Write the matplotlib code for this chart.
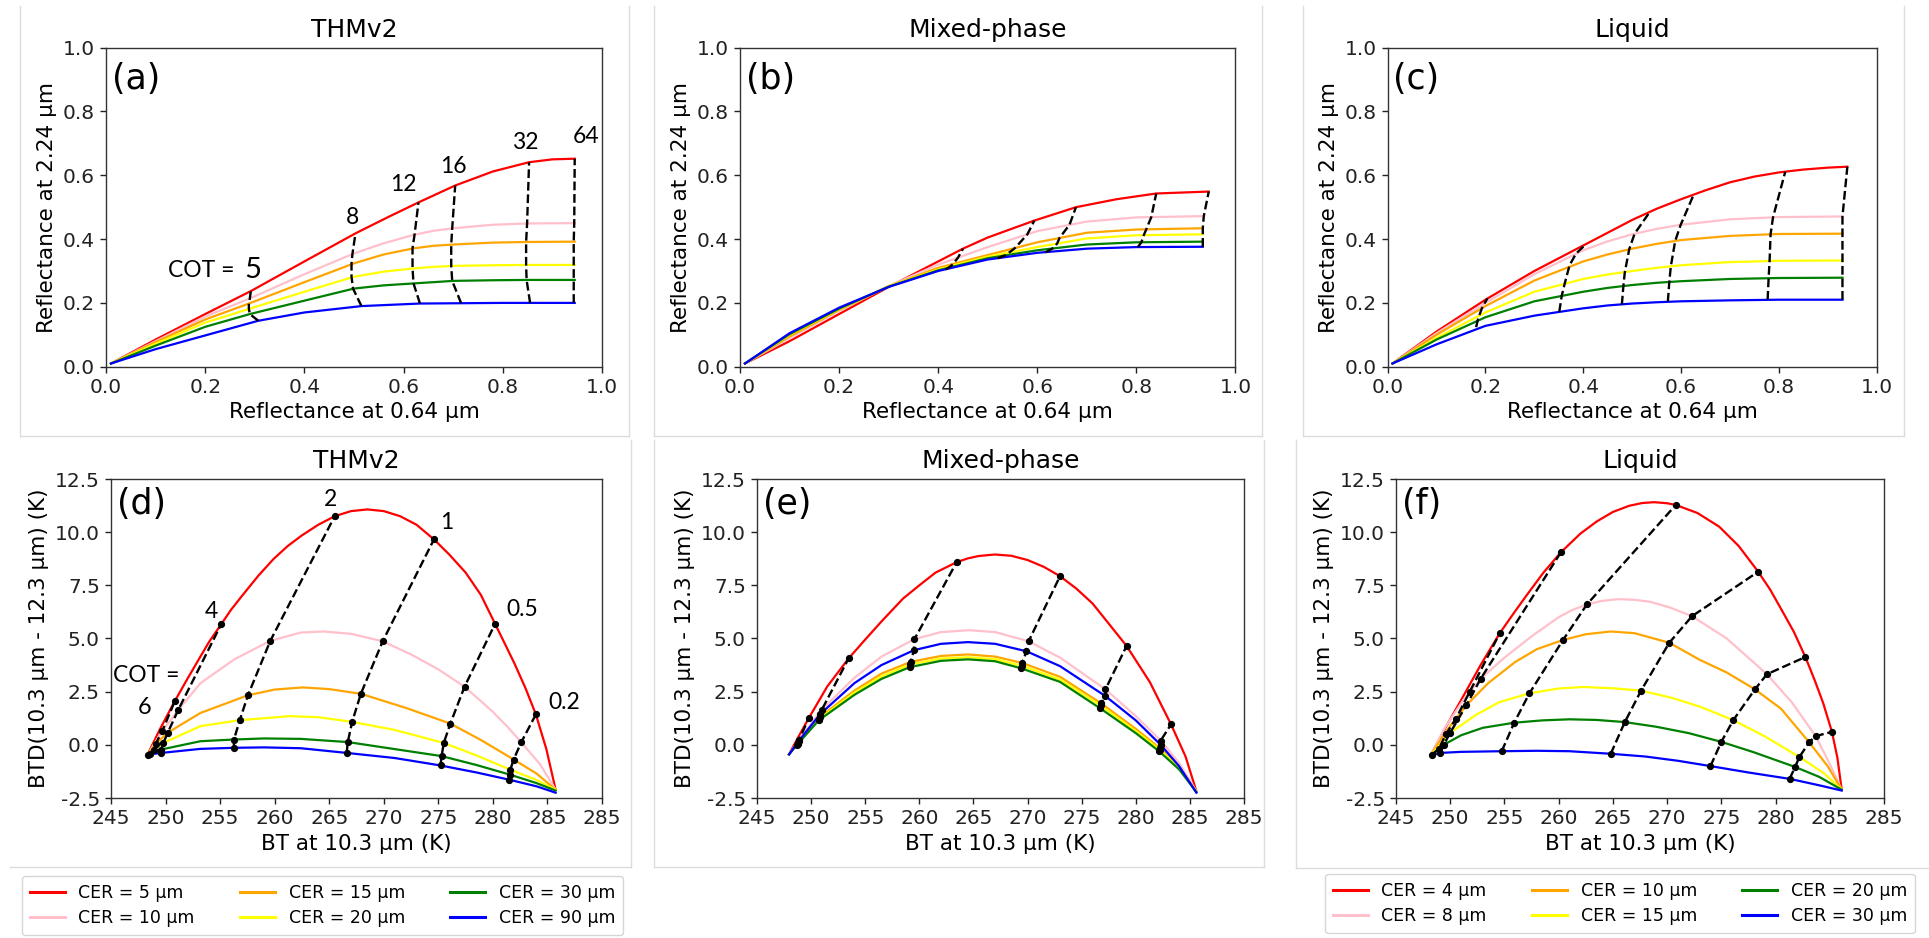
import matplotlib
matplotlib.use('Agg')
import matplotlib.pyplot as plt
from matplotlib.lines import Line2D

plt.rcParams['font.family'] = ['DejaVu Sans']

# ---------------- shared data ----------------
colors = ['red', 'pink', 'orange', 'yellow', 'green', 'blue']
cer_thm = [5, 10, 15, 20, 30, 90]
cer_liq = [4, 8, 10, 15, 20, 30]
titles = ['THMv2', 'Mixed-phase', 'Liquid']
letters = ['(a)', '(b)', '(c)', '(d)', '(e)', '(f)']

refl_ticks = [0.0, 0.2, 0.4, 0.6, 0.8, 1.0]
refl_ticklabels = ['0.0', '0.2', '0.4', '0.6', '0.8', '1.0']
bt_ticks = [245, 250, 255, 260, 265, 270, 275, 280, 285, 290]
bt_ticklabels = ['245', '250', '255', '260', '265', '270', '275', '280', '285', '285']
btd_ticks = [-2.5, 0.0, 2.5, 5.0, 7.5, 10.0, 12.5]
btd_ticklabels = ['-2.5', '0.0', '2.5', '5.0', '7.5', '10.0', '12.5']

# ---------------- panel (a) THMv2 reflectance ----------------
a_x = [
    [0.01, 0.1, 0.2, 0.292, 0.4, 0.503, 0.57, 0.63, 0.704, 0.78, 0.853, 0.9, 0.945],
    [0.01, 0.1, 0.2, 0.29, 0.4, 0.5, 0.56, 0.62, 0.66, 0.70, 0.78, 0.85, 0.945],
    [0.01, 0.1, 0.2, 0.29, 0.4, 0.5, 0.56, 0.62, 0.66, 0.70, 0.78, 0.85, 0.945],
    [0.01, 0.1, 0.2, 0.29, 0.4, 0.5, 0.56, 0.62, 0.66, 0.70, 0.78, 0.85, 0.945],
    [0.01, 0.1, 0.2, 0.29, 0.4, 0.5, 0.56, 0.62, 0.66, 0.70, 0.78, 0.85, 0.945],
    [0.01, 0.1, 0.2, 0.307, 0.4, 0.515, 0.633, 0.716, 0.8, 0.855, 0.945],
]
a_y = [
    [0.01, 0.085, 0.165, 0.237, 0.33, 0.418, 0.47, 0.515, 0.568, 0.612, 0.641, 0.65, 0.652],
    [0.01, 0.08, 0.157, 0.214, 0.29, 0.355, 0.387, 0.413, 0.426, 0.434, 0.445, 0.449, 0.45],
    [0.01, 0.077, 0.148, 0.199, 0.265, 0.324, 0.352, 0.371, 0.379, 0.383, 0.389, 0.391, 0.392],
    [0.01, 0.072, 0.138, 0.182, 0.235, 0.282, 0.298, 0.308, 0.313, 0.316, 0.318, 0.319, 0.319],
    [0.01, 0.066, 0.125, 0.165, 0.207, 0.245, 0.255, 0.261, 0.265, 0.269, 0.271, 0.272, 0.272],
    [0.01, 0.055, 0.098, 0.144, 0.17, 0.19, 0.198, 0.199, 0.2, 0.2, 0.2],
]
a_cot = ['5', '8', '12', '16', '32', '64']
a_iso_x = [
    [0.292, 0.29, 0.288, 0.288, 0.29, 0.307],
    [0.503, 0.497, 0.495, 0.495, 0.498, 0.515],
    [0.63, 0.622, 0.618, 0.618, 0.62, 0.633],
    [0.704, 0.698, 0.696, 0.696, 0.698, 0.716],
    [0.853, 0.849, 0.847, 0.847, 0.848, 0.855],
    [0.945, 0.944, 0.943, 0.943, 0.943, 0.943],
]
a_iso_y = [
    [0.237, 0.214, 0.199, 0.182, 0.165, 0.144],
    [0.418, 0.355, 0.324, 0.282, 0.245, 0.19],
    [0.515, 0.413, 0.371, 0.308, 0.261, 0.198],
    [0.568, 0.434, 0.383, 0.316, 0.269, 0.199],
    [0.641, 0.449, 0.391, 0.319, 0.272, 0.2],
    [0.652, 0.45, 0.392, 0.319, 0.272, 0.2],
]
a_label_x = [0.496, 0.60, 0.70, 0.845, 0.967]
a_label_y = [0.468, 0.572, 0.627, 0.702, 0.721]

# ---------------- panel (b) Mixed-phase reflectance ----------------
b_x = [
    [0.01, 0.1, 0.2, 0.3, 0.4, 0.45, 0.5, 0.594, 0.678, 0.76, 0.84, 0.946],
    [0.01, 0.1, 0.2, 0.3, 0.4, 0.5, 0.6, 0.7, 0.8, 0.934],
    [0.01, 0.1, 0.2, 0.3, 0.4, 0.5, 0.6, 0.7, 0.8, 0.934],
    [0.01, 0.1, 0.2, 0.3, 0.4, 0.5, 0.6, 0.7, 0.8, 0.934],
    [0.01, 0.1, 0.2, 0.3, 0.4, 0.5, 0.6, 0.7, 0.8, 0.934],
    [0.01, 0.1, 0.2, 0.3, 0.4, 0.5, 0.6, 0.7, 0.8, 0.934],
]
b_y = [
    [0.01, 0.08, 0.165, 0.25, 0.33, 0.37, 0.405, 0.458, 0.50, 0.525, 0.543, 0.549],
    [0.01, 0.09, 0.175, 0.253, 0.32, 0.375, 0.425, 0.455, 0.468, 0.472],
    [0.01, 0.095, 0.178, 0.252, 0.31, 0.35, 0.39, 0.42, 0.43, 0.434],
    [0.01, 0.1, 0.18, 0.252, 0.305, 0.345, 0.375, 0.402, 0.412, 0.415],
    [0.01, 0.102, 0.182, 0.251, 0.302, 0.34, 0.365, 0.383, 0.39, 0.392],
    [0.01, 0.105, 0.185, 0.25, 0.30, 0.336, 0.357, 0.37, 0.375, 0.376],
]
b_iso_x = [
    [0.45, 0.44, 0.43, 0.425, 0.42, 0.415],
    [0.594, 0.58, 0.555, 0.545, 0.535, 0.52],
    [0.678, 0.665, 0.645, 0.64, 0.63, 0.617],
    [0.84, 0.83, 0.82, 0.815, 0.81, 0.803],
    [0.946, 0.936, 0.934, 0.934, 0.934, 0.934],
]
b_iso_y = [
    [0.37, 0.342, 0.322, 0.315, 0.31, 0.305],
    [0.458, 0.415, 0.372, 0.36, 0.349, 0.34],
    [0.50, 0.445, 0.404, 0.386, 0.37, 0.359],
    [0.543, 0.469, 0.431, 0.4125, 0.39, 0.375],
    [0.549, 0.472, 0.434, 0.415, 0.392, 0.376],
]

# ---------------- panel (c) Liquid reflectance ----------------
c_x = [
    [0.01, 0.1, 0.2, 0.3, 0.4, 0.5, 0.55, 0.6, 0.65, 0.7, 0.75, 0.8, 0.85, 0.9, 0.94],
    [0.01, 0.1, 0.2, 0.3, 0.4, 0.45, 0.5, 0.55, 0.6, 0.7, 0.8, 0.93],
    [0.01, 0.1, 0.2, 0.3, 0.4, 0.45, 0.5, 0.55, 0.6, 0.7, 0.8, 0.93],
    [0.01, 0.1, 0.2, 0.3, 0.4, 0.45, 0.5, 0.55, 0.6, 0.7, 0.8, 0.93],
    [0.01, 0.1, 0.2, 0.3, 0.4, 0.45, 0.5, 0.55, 0.6, 0.7, 0.8, 0.93],
    [0.01, 0.1, 0.2, 0.3, 0.4, 0.45, 0.5, 0.55, 0.6, 0.7, 0.8, 0.93],
]
c_y = [
    [0.01, 0.11, 0.21, 0.30, 0.38, 0.46, 0.495, 0.525, 0.553, 0.578, 0.596, 0.609, 0.618, 0.624, 0.627],
    [0.01, 0.105, 0.2, 0.29, 0.365, 0.393, 0.415, 0.432, 0.445, 0.462, 0.469, 0.471],
    [0.01, 0.1, 0.19, 0.27, 0.33, 0.352, 0.37, 0.385, 0.397, 0.41, 0.416, 0.417],
    [0.01, 0.09, 0.17, 0.235, 0.275, 0.289, 0.30, 0.31, 0.318, 0.328, 0.332, 0.333],
    [0.01, 0.085, 0.155, 0.205, 0.235, 0.247, 0.256, 0.263, 0.268, 0.275, 0.278, 0.279],
    [0.01, 0.07, 0.128, 0.16, 0.183, 0.192, 0.198, 0.202, 0.205, 0.208, 0.21, 0.21],
]
c_iso_x = [
    [0.204, 0.198, 0.193, 0.188, 0.185, 0.181],
    [0.406, 0.385, 0.372, 0.362, 0.356, 0.351],
    [0.536, 0.505, 0.494, 0.485, 0.482, 0.479],
    [0.626, 0.599, 0.588, 0.579, 0.576, 0.573],
    [0.813, 0.788, 0.783, 0.781, 0.779, 0.777],
    [0.94, 0.93, 0.93, 0.93, 0.93, 0.93],
]
c_iso_y = [
    [0.214, 0.198, 0.184, 0.163, 0.15, 0.124],
    [0.385, 0.354, 0.318, 0.26, 0.222, 0.172],
    [0.485, 0.417, 0.368, 0.296, 0.252, 0.195],
    [0.54, 0.444, 0.394, 0.314, 0.266, 0.204],
    [0.611, 0.468, 0.415, 0.331, 0.277, 0.21],
    [0.627, 0.471, 0.417, 0.333, 0.279, 0.21],
]

# ---------------- panel (d) THMv2 BTD ----------------
d_x = [
    [248.35, 249.5, 250.85, 252, 253, 254, 255.1, 256, 257, 258.5, 259.9, 261.2, 262.5, 264, 265.5,
     267, 268.5, 270, 271.5, 273, 274.6, 276, 277.5, 278.9, 280.2, 281.1, 282, 283, 283.94, 284.9, 285.75],
    [248.35, 249.7, 251.15, 253.2, 256.3, 259.6, 262.4, 264.5, 267, 269.9, 272.5, 275, 277.4, 278.7,
     280, 281.3, 282.6, 284.3, 285.75],
    [248.35, 249.1, 250.2, 253.2, 257.55, 260, 262.6, 265, 267.9, 272, 276.1, 279, 281.9, 284, 285.75],
    [248.35, 249.8, 253.2, 256.8, 261.4, 264, 267.1, 271, 275.5, 278.5, 281.6, 284, 285.75],
    [248.35, 249.6, 253.2, 256.27, 259, 262.4, 266.7, 271, 275.3, 278.5, 281.55, 284, 285.75],
    [248.35, 249.6, 253.2, 256.27, 259, 262.4, 266.6, 271, 275.2, 278.5, 281.5, 284, 285.75],
]
d_y = [
    [-0.46, 0.75, 2.06, 3.1, 3.98, 4.85, 5.67, 6.35, 7.0, 7.95, 8.74, 9.35, 9.85, 10.35, 10.75,
     10.99, 11.07, 10.99, 10.75, 10.35, 9.66, 8.95, 8.1, 7.05, 5.69, 4.75, 3.8, 2.65, 1.43, -0.2, -2.11],
    [-0.46, 0.65, 1.63, 2.9, 4.02, 4.89, 5.28, 5.33, 5.22, 4.87, 4.25, 3.55, 2.73, 2.15,
     1.55, 0.87, 0.12, -0.9, -2.11],
    [-0.46, 0.05, 0.57, 1.5, 2.33, 2.6, 2.7, 2.62, 2.4, 1.74, 1.0, 0.2, -0.69, -1.35, -2.11],
    [-0.46, 0.09, 0.88, 1.16, 1.35, 1.3, 1.08, 0.7, 0.09, -0.5, -1.17, -1.65, -2.11],
    [-0.46, -0.22, 0.17, 0.25, 0.3, 0.28, 0.13, -0.2, -0.53, -0.95, -1.4, -1.8, -2.15],
    [-0.46, -0.38, -0.19, -0.14, -0.12, -0.16, -0.38, -0.62, -0.97, -1.3, -1.64, -1.95, -2.25],
]
d_iso_x = [
    [250.85, 249.7, 249.1, 248.9, 248.6, 248.4],
    [255.1, 251.15, 250.2, 249.8, 249.6, 249.6],
    [265.5, 259.6, 257.55, 256.8, 256.27, 256.27],
    [274.6, 269.9, 267.9, 267.1, 266.7, 266.6],
    [280.2, 277.4, 276.1, 275.5, 275.3, 275.2],
    [283.94, 282.6, 281.9, 281.6, 281.55, 281.5],
]
d_iso_y = [
    [2.06, 0.65, 0.05, -0.25, -0.41, -0.46],
    [5.67, 1.63, 0.57, 0.09, -0.22, -0.38],
    [10.75, 4.89, 2.33, 1.16, 0.25, -0.14],
    [9.66, 4.87, 2.4, 1.08, 0.13, -0.38],
    [5.69, 2.73, 1.0, 0.09, -0.53, -0.97],
    [1.43, 0.12, -0.69, -1.17, -1.4, -1.64],
]
d_labels = ['2', '1', '4', '0.5', '0.2']
d_label_x = [265.1, 275.8, 254.2, 282.7, 286.5]
d_label_y = [11.54, 10.44, 6.25, 6.36, 1.97]

# ---------------- panel (e) Mixed-phase BTD ----------------
e_x = [
    [247.96, 248.8, 249.8, 251.5, 253.46, 255, 256.5, 258.5, 260, 261.5, 263.45, 264.5, 265.5, 267,
     268.5, 270, 271.5, 273, 274.5, 276, 277.5, 279.15, 281.3, 283.26, 284.6, 285.6],
    [247.96, 248.9, 251.0, 254, 256.5, 259.55, 262, 264.6, 267, 270.1, 273, 277.2, 280, 282.3, 284, 285.6],
    [247.96, 248.8, 250.8, 254, 256.5, 259.2, 262, 264.5, 267, 269.5, 273, 276.8, 280, 282.2, 284, 285.6],
    [247.96, 248.75, 250.75, 254, 256.5, 259.15, 262, 264.5, 267, 269.45, 273, 276.75, 280, 282.2, 284, 285.6],
    [247.96, 248.7, 250.7, 254, 256.5, 259.1, 262, 264.5, 267, 269.4, 273, 276.7, 280, 282.15, 284, 285.6],
    [247.96, 248.85, 250.85, 254, 256.5, 259.5, 262, 264.5, 267, 269.9, 273, 277.2, 280, 282.3, 284, 285.6],
]
e_y = [
    [-0.45, 0.35, 1.27, 2.75, 4.06, 4.95, 5.8, 6.88, 7.5, 8.1, 8.59, 8.77, 8.88, 8.95,
     8.89, 8.69, 8.37, 7.93, 7.35, 6.65, 5.7, 4.65, 2.95, 0.96, -0.55, -2.18],
    [-0.45, 0.25, 1.66, 3.15, 4.15, 4.97, 5.3, 5.39, 5.3, 4.87, 4.1, 2.61, 1.35, 0.2, -0.85, -2.18],
    [-0.45, 0.1, 1.3, 2.55, 3.35, 3.9, 4.18, 4.25, 4.15, 3.85, 3.2, 1.95, 0.75, -0.15, -1.05, -2.2],
    [-0.45, 0.05, 1.22, 2.45, 3.22, 3.78, 4.06, 4.12, 4.03, 3.72, 3.07, 1.85, 0.65, -0.22, -1.1, -2.2],
    [-0.45, 0.0, 1.15, 2.35, 3.1, 3.65, 3.95, 4.02, 3.93, 3.6, 2.96, 1.72, 0.55, -0.3, -1.15, -2.22],
    [-0.45, 0.18, 1.45, 2.9, 3.75, 4.45, 4.75, 4.83, 4.75, 4.4, 3.7, 2.29, 1.15, 0.0, -1.0, -2.25],
]
e_iso_x = [
    [249.8, 248.9, 248.8, 248.75, 248.7, 248.85],
    [253.46, 251.0, 250.8, 250.75, 250.7, 250.85],
    [263.45, 259.55, 259.2, 259.15, 259.1, 259.5],
    [273.0, 270.1, 269.5, 269.45, 269.4, 269.9],
    [279.15, 277.2, 276.8, 276.75, 276.7, 277.2],
    [283.26, 282.3, 282.2, 282.2, 282.15, 282.3],
]
e_iso_y = [
    [1.27, 0.25, 0.1, 0.05, 0.0, 0.18],
    [4.06, 1.66, 1.3, 1.22, 1.15, 1.45],
    [8.59, 4.97, 3.9, 3.78, 3.65, 4.45],
    [7.93, 4.87, 3.85, 3.72, 3.6, 4.4],
    [4.65, 2.61, 1.95, 1.85, 1.72, 2.29],
    [0.96, 0.2, -0.15, -0.22, -0.3, 0.0],
]

# ---------------- panel (f) Liquid BTD ----------------
f_x = [
    [248.2, 249.5, 251, 252.8, 254.57, 255.8, 257, 258.6, 260.2, 262, 263.5, 265, 266.5, 267.7, 268.8,
     270, 270.8, 272.8, 274.8, 276.6, 278.4, 279.5, 280.5, 281.7, 282.75, 283.6, 284.4, 285.2, 285.7, 286.1],
    [248.2, 249.5, 251.2, 252.8, 255, 257.5, 260, 261.3, 262.6, 264, 265.5, 267, 268.5, 270.3, 272.3,
     275.5, 279.2, 281.5, 283.7, 285, 286.1],
    [248.2, 249.5, 251.5, 253.5, 256, 258, 260.4, 262.5, 264.8, 267, 270.2, 273, 275.5, 278.1, 280.5,
     283.1, 284.8, 286.1],
    [248.2, 250.0, 252.35, 254.5, 257.3, 260, 262.3, 265, 267.6, 270.5, 273, 276.1, 279, 282.2, 284.5, 286.1],
    [248.2, 249.4, 251, 253, 255.9, 258.5, 261, 263.5, 266.1, 269, 272, 275.0, 278, 281.8, 284, 286.1],
    [248.2, 249.1, 251, 254.75, 258, 261, 264.8, 268, 271, 274.0, 277.5, 281.3, 284, 286.1],
]
f_y = [
    [-0.5, 0.75, 2.1, 3.75, 5.25, 6.15, 7.0, 8.1, 9.05, 9.93, 10.5, 10.95, 11.24, 11.37, 11.41,
     11.36, 11.28, 10.9, 10.26, 9.35, 8.14, 7.3, 6.4, 5.3, 4.13, 3.05, 1.95, 0.61, -0.6, -2.11],
    [-0.5, 0.8, 2.1, 3.1, 4.1, 5.1, 6.0, 6.35, 6.6, 6.77, 6.85, 6.82, 6.72, 6.45, 6.05,
     5.0, 3.32, 2.0, 0.41, -0.9, -2.11],
    [-0.5, 0.55, 1.87, 2.9, 3.9, 4.5, 4.93, 5.2, 5.33, 5.25, 4.8, 4.0, 3.4, 2.61, 1.7,
     0.12, -1.0, -2.11],
    [-0.5, 0.57, 1.4, 2.0, 2.42, 2.65, 2.72, 2.66, 2.55, 2.2, 1.8, 1.16, 0.4, -0.57, -1.35, -2.11],
    [-0.5, 0.0, 0.45, 0.8, 1.04, 1.15, 1.2, 1.17, 1.07, 0.85, 0.55, 0.14, -0.35, -1.04, -1.5, -2.11],
    [-0.5, -0.38, -0.33, -0.3, -0.28, -0.3, -0.42, -0.55, -0.75, -1.0, -1.3, -1.6, -1.9, -2.15],
]
f_iso_x = [
    [254.57, 251.8, 250.5, 249.6, 248.95, 248.3],
    [260.2, 252.8, 251.5, 250.0, 249.4, 249.1],
    [270.8, 262.6, 260.4, 257.3, 255.9, 254.75],
    [278.4, 272.3, 270.2, 267.6, 266.1, 264.8],
    [282.75, 279.2, 278.1, 276.1, 275.0, 274.0],
    [285.2, 283.7, 283.1, 282.2, 281.8, 281.3],
]
f_iso_y = [
    [5.25, 2.5, 1.2, 0.5, -0.19, -0.48],
    [9.05, 3.1, 1.87, 0.57, 0.0, -0.38],
    [11.28, 6.6, 4.93, 2.42, 1.04, -0.3],
    [8.14, 6.05, 4.8, 2.55, 1.07, -0.42],
    [4.13, 3.32, 2.61, 1.16, 0.14, -1.0],
    [0.61, 0.41, 0.12, -0.57, -1.04, -1.6],
]

# ---------------- figure ----------------
W, H = 1929, 938
fig = plt.figure(figsize=(W / 100, H / 100), dpi=100)


def box(l, r, t, b):
    return [l / W, 1 - b / H, (r - l) / W, (b - t) / H]


def fline(x0, y0, x1, y1):
    fig.add_artist(Line2D([x0 / W, x1 / W], [1 - y0 / H, 1 - y1 / H],
                          transform=fig.transFigure, color='#dcdcdc', lw=1.0))


# faint panel frames of the composite
fline(20, 6, 20, 436)
fline(629, 6, 629, 436)
fline(20, 436, 629, 436)
fline(654, 6, 654, 436)
fline(1262, 6, 1262, 436)
fline(654, 436, 1262, 436)
fline(1303, 6, 1303, 436)
fline(1904, 6, 1904, 436)
fline(1303, 436, 1904, 436)
fline(631, 440, 631, 867)
fline(10, 867, 631, 867)
fline(654, 440, 654, 867)
fline(1264, 440, 1264, 867)
fline(654, 867, 1264, 867)
fline(1296, 440, 1296, 868)
fline(1296, 868, 1929, 868)

TICK = 14.5
LAB = 15.5
TIT = 18
ANN = 16.5
ANN_FAM = ['Lato', 'DejaVu Sans']


def style(ax):
    for s in ax.spines.values():
        s.set_color('#333333')
        s.set_linewidth(1.0)
    ax.tick_params(labelsize=TICK, colors='#222222', length=4.5, width=1.0)


def refl_axes(rect, title, letter):
    ax = fig.add_axes(rect)
    ax.set_xlim(0, 1)
    ax.set_ylim(0, 1)
    ax.set_xticks(refl_ticks)
    ax.set_xticklabels(refl_ticklabels)
    ax.set_yticks(refl_ticks)
    ax.set_yticklabels(refl_ticklabels)
    ax.set_xlabel('Reflectance at 0.64 µm', fontsize=LAB, labelpad=4)
    ax.set_ylabel('Reflectance at 2.24 µm', fontsize=LAB, labelpad=4)
    ax.set_title(title, fontsize=TIT, pad=8)
    ax.text(0.012, 0.955, letter, transform=ax.transAxes, fontsize=25,
            ha='left', va='top')
    style(ax)
    return ax


def bt_axes(rect, title, letter):
    ax = fig.add_axes(rect)
    ax.set_xlim(245, 290)
    ax.set_ylim(-2.5, 12.5)
    ax.set_xticks(bt_ticks)
    ax.set_xticklabels(bt_ticklabels)
    ax.set_yticks(btd_ticks)
    ax.set_yticklabels(btd_ticklabels)
    ax.set_xlabel('BT at 10.3 µm (K)', fontsize=LAB, labelpad=4)
    ax.set_ylabel('BTD(10.3 µm - 12.3 µm) (K)', fontsize=LAB, labelpad=4)
    ax.set_title(title, fontsize=TIT, pad=8)
    ax.text(0.012, 0.975, letter, transform=ax.transAxes, fontsize=25,
            ha='left', va='top')
    style(ax)
    return ax


def draw(ax, xs, ys, iso_x, iso_y, markers):
    for c, x, y in zip(colors, xs, ys):
        ax.plot(x, y, color=c, lw=1.6, zorder=2, solid_joinstyle='round')
    for ix, iy in zip(iso_x, iso_y):
        pts = sorted(zip(iy, ix))
        yy = [p[0] for p in pts]
        xx = [p[1] for p in pts]
        if markers:
            ax.plot(xx, yy, color='black', ls='--', lw=1.7, marker='o',
                    ms=4.2, zorder=3)
        else:
            ax.plot(xx, yy, color='black', ls='--', lw=1.7, zorder=3)


ax_a = refl_axes(box(106, 602, 47.7, 366.7), titles[0], letters[0])
draw(ax_a, a_x, a_y, a_iso_x, a_iso_y, False)
ax_a.text(0.125, 0.303, 'COT =', fontsize=ANN, family=ANN_FAM, ha='left', va='center')
ax_a.text(0.296, 0.303, a_cot[0], fontsize=21, family=ANN_FAM, ha='center', va='center')
for t, x, y in zip(a_cot[1:], a_label_x, a_label_y):
    ax_a.text(x, y, t, fontsize=ANN, family=ANN_FAM, ha='center', va='center')

ax_b = refl_axes(box(740, 1235.5, 47.7, 366.7), titles[1], letters[1])
draw(ax_b, b_x, b_y, b_iso_x, b_iso_y, False)

ax_c = refl_axes(box(1387.6, 1876.7, 47.7, 366.7), titles[2], letters[2])
draw(ax_c, c_x, c_y, c_iso_x, c_iso_y, False)

ax_d = bt_axes(box(111, 602, 479, 798), titles[0], letters[3])
draw(ax_d, d_x, d_y, d_iso_x, d_iso_y, True)
ax_d.text(248.2, 3.24, 'COT =', fontsize=ANN, family=ANN_FAM, ha='center', va='center')
ax_d.text(248.1, 1.77, '6', fontsize=17, family=ANN_FAM, ha='center', va='center')
for t, x, y in zip(d_labels, d_label_x, d_label_y):
    ax_d.text(x, y, t, fontsize=ANN, family=ANN_FAM, ha='center', va='center')

ax_e = bt_axes(box(757, 1244, 479, 798), titles[1], letters[4])
draw(ax_e, e_x, e_y, e_iso_x, e_iso_y, True)

ax_f = bt_axes(box(1396, 1884, 479, 798), titles[2], letters[5])
draw(ax_f, f_x, f_y, f_iso_x, f_iso_y, True)

# legends
h_thm = [Line2D([], [], color=c, lw=2.2) for c in colors]
fig.legend(h_thm, [f'CER = {v} µm' for v in cer_thm], ncol=3, loc='center',
           bbox_to_anchor=(322.5 / W, 1 - 905.5 / H), fontsize=12.5,
           columnspacing=2.6, handlelength=2.0, labelspacing=0.45,
           borderpad=0.45, edgecolor='#cccccc')
h_liq = [Line2D([], [], color=c, lw=2.2) for c in colors]
fig.legend(h_liq, [f'CER = {v} µm' for v in cer_liq], ncol=3, loc='center',
           bbox_to_anchor=(1620 / W, 1 - 903.5 / H), fontsize=12.5,
           columnspacing=2.6, handlelength=2.0, labelspacing=0.45,
           borderpad=0.45, edgecolor='#cccccc')

fig.savefig('out.png', dpi=100, facecolor='white')
